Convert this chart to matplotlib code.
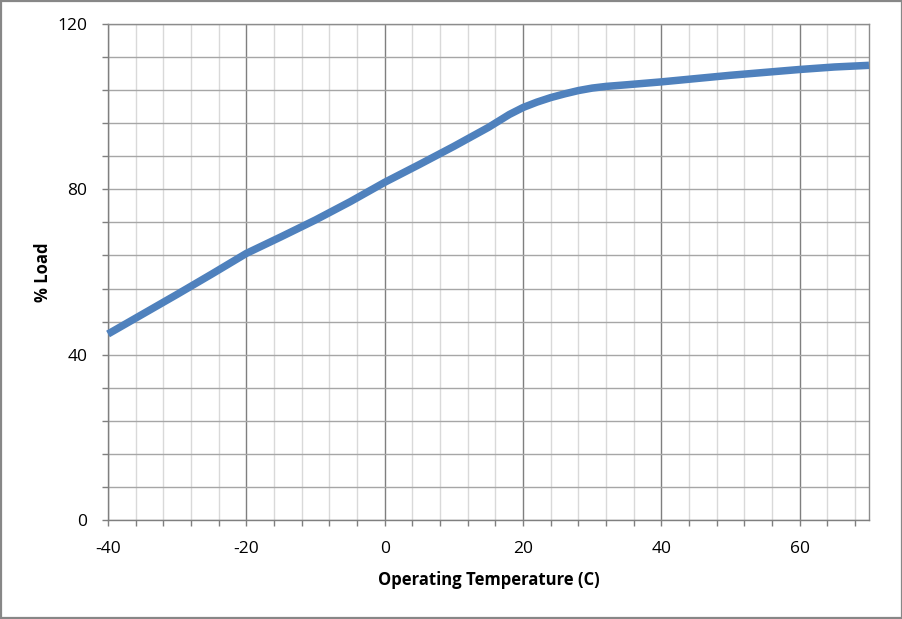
import matplotlib
matplotlib.use("Agg")
import matplotlib.pyplot as plt
from matplotlib.patches import Rectangle
from matplotlib.ticker import MultipleLocator

temperature = [-40, -35, -30, -25, -20, -15, -10, -5, 0, 5, 10, 15, 18, 20,
               22, 24, 26, 28, 30, 32, 35, 40, 45, 50, 55, 60, 65, 70]
load_pct = [45.0, 49.8, 54.6, 59.5, 64.5, 68.5, 72.6, 77.0, 81.7, 86.0, 90.4,
            95.0, 98.1, 99.8, 101.1, 102.2, 103.1, 103.9, 104.5, 104.9,
            105.3, 106.0, 106.8, 107.6, 108.3, 109.0, 109.6, 110.0]
x_ticks = [-40, -20, 0, 20, 40, 60]
y_ticks = [0, 40, 80, 120]

plt.rcParams['font.family'] = ['Open Sans', 'DejaVu Sans']
plt.rcParams['axes.unicode_minus'] = False

fig = plt.figure(figsize=(9.03, 6.19), dpi=100)
fig.patches.append(Rectangle((1/903, 1/619), 901/903, 617/619,
                             transform=fig.transFigure, fill=False,
                             edgecolor='#878787', linewidth=1.6))
ax = fig.add_axes([108/903, 99/619, 761/903, 496/619])

ax.set_xlim(-40, 70)
ax.set_ylim(0, 120)
ax.set_xticks(x_ticks)
ax.set_yticks(y_ticks)
ax.xaxis.set_minor_locator(MultipleLocator(4))
ax.yaxis.set_minor_locator(MultipleLocator(8))

ax.grid(which='major', axis='x', color='#7f7f7f', linewidth=1.0)
ax.grid(which='minor', axis='x', color='#d9d9d9', linewidth=1.0)
ax.grid(which='both', axis='y', color='#a6a6a6', linewidth=1.0)
ax.set_axisbelow(True)

for s in ['left', 'bottom']:
    ax.spines[s].set_color('#7f7f7f')
    ax.spines[s].set_linewidth(1.0)
for s in ['top', 'right']:
    ax.spines[s].set_color('#8c8c8c')
    ax.spines[s].set_linewidth(1.0)

ax.tick_params(which='both', direction='out', color='#7f7f7f', width=1.0)
ax.tick_params(which='major', length=4, labelsize=12.5, labelcolor='#000000')
ax.tick_params(which='minor', length=4)
ax.tick_params(axis='x', which='major', pad=11)
ax.tick_params(axis='y', which='major', pad=11)

ax.plot(temperature, load_pct, color='#4f81bd', linewidth=5.4,
        solid_capstyle='butt', solid_joinstyle='round', clip_on=False, zorder=3)

ax.set_xlabel('Operating Temperature (C)', fontsize=12, fontweight='bold',
              labelpad=10)
ax.set_ylabel('% Load', fontsize=12, fontweight='bold', labelpad=4)

fig.savefig('out.png', dpi=100)
